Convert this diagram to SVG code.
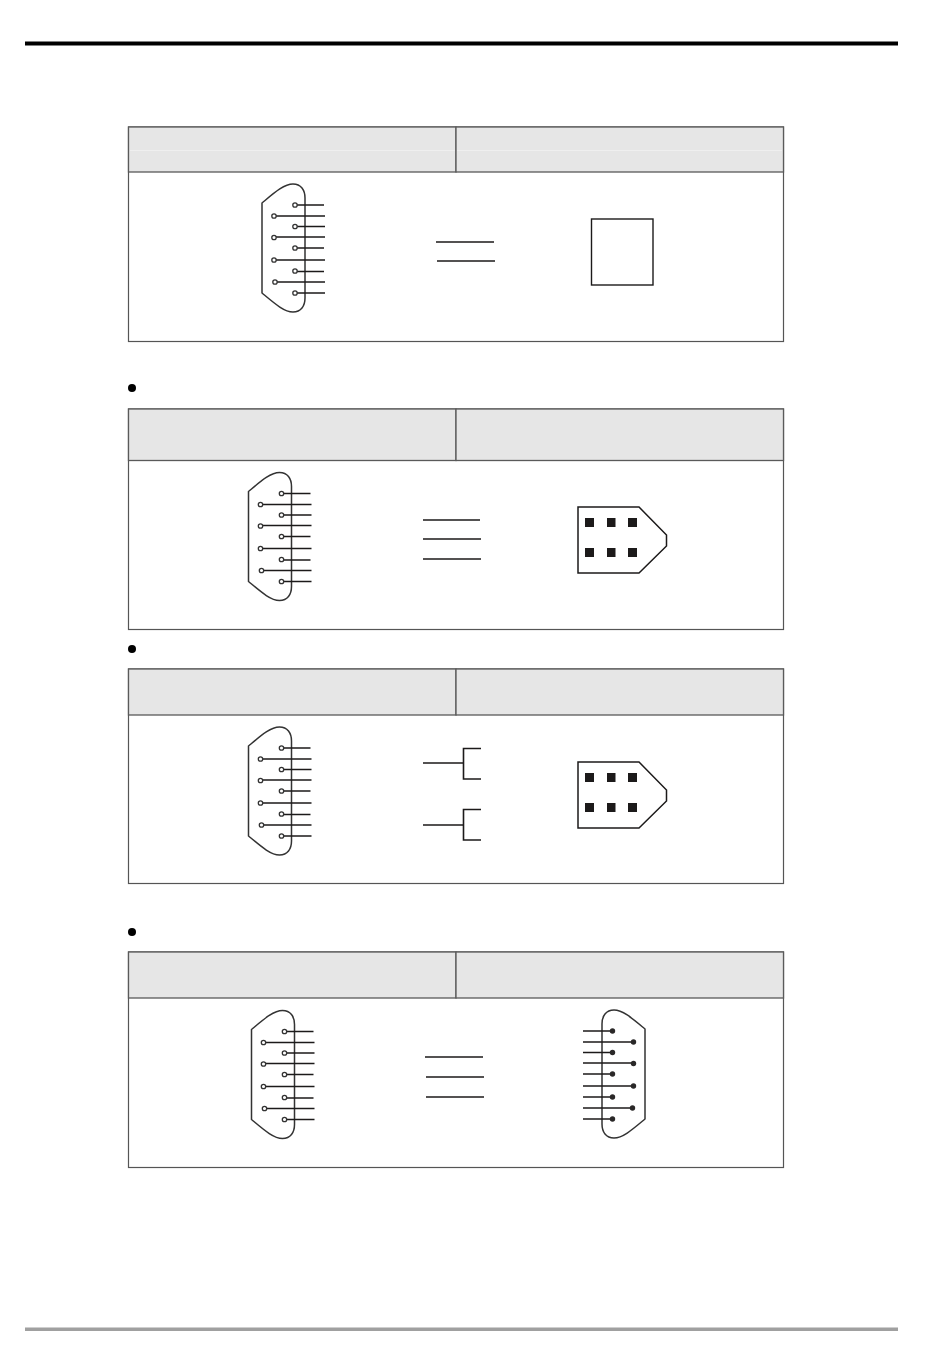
<svg xmlns="http://www.w3.org/2000/svg" xmlns:xlink="http://www.w3.org/1999/xlink" width="950" height="1360" viewBox="0 0 950 1360">
<style>
.tbl{fill:#fff;stroke:#555;stroke-width:1.2}
.hd{fill:#e6e6e6;stroke:#5a5a5a;stroke-width:1.3}
.ln{fill:none;stroke:#1c1a1a;stroke-width:1.6}
.sh{fill:none;stroke:#333;stroke-width:1.5}
.o{fill:#fff;stroke:#333;stroke-width:1.3}
.f{fill:#2a2828;stroke:none}
.sq{fill:#1c1a1a}
</style>
<defs>
<g id="dsub">
<path class="sh" d="M262 203C274 193 284 184 293 184C301 184 305 190 305 198V298C305 306 301 312 293 312C284 312 274 303 262 293Z"/>
<path class="ln" d="M295 205H324M274 216H325M295 226.500H325M274 237H325M295 248H324M274 260H325M295 271.500H324M275 282H325M295 293H325"/>
<circle class="o" cx="295" cy="205" r="2.200"/><circle class="o" cx="274" cy="216" r="2.200"/><circle class="o" cx="295" cy="226.500" r="2.200"/><circle class="o" cx="274" cy="237.500" r="2.200"/><circle class="o" cx="295" cy="248" r="2.200"/><circle class="o" cx="274" cy="260" r="2.200"/><circle class="o" cx="295" cy="271" r="2.200"/><circle class="o" cx="275" cy="282" r="2.200"/><circle class="o" cx="295" cy="293" r="2.200"/>
</g>
<g id="six">
<path class="sh" style="stroke:#1c1a1a" d="M578 507H639L666.500 535V546L639 573H578Z"/>
<rect class="sq" x="585" y="518" width="9" height="9"/><rect class="sq" x="607" y="518" width="8.500" height="9"/><rect class="sq" x="628" y="518" width="9" height="9"/>
<rect class="sq" x="585" y="548" width="9" height="9"/><rect class="sq" x="607" y="548" width="8.500" height="9"/><rect class="sq" x="628" y="548" width="9" height="9"/>
</g>
</defs>
<g id="page-rules">
<rect x="25" y="41.500" width="873" height="4" fill="#000"/>
<rect x="25" y="1327.500" width="873" height="3.500" fill="#a0a0a0"/>
</g>
<g id="bullets">
<circle cx="132" cy="388" r="4" fill="#000"/><circle cx="132" cy="649" r="4" fill="#000"/><circle cx="132" cy="932" r="4" fill="#000"/>
</g>
<g id="table1">
<rect class="tbl" x="128.500" y="127" width="655" height="214.500"/>
<rect class="hd" x="128.500" y="127" width="327.500" height="45"/><rect class="hd" x="456" y="127" width="327.500" height="45"/>
<path d="M130 150.500H455M457 150.500H782" stroke="#efefef" stroke-width="1"/>
</g>
<g id="table2">
<rect class="tbl" x="128.500" y="409" width="655" height="220.500"/>
<rect class="hd" x="128.500" y="409" width="327.500" height="51.500"/><rect class="hd" x="456" y="409" width="327.500" height="51.500"/>
</g>
<g id="table3">
<rect class="tbl" x="128.500" y="669" width="655" height="214.500"/>
<rect class="hd" x="128.500" y="669" width="327.500" height="46"/><rect class="hd" x="456" y="669" width="327.500" height="46"/>
</g>
<g id="table4">
<rect class="tbl" x="128.500" y="952" width="655" height="215.500"/>
<rect class="hd" x="128.500" y="952" width="327.500" height="46"/><rect class="hd" x="456" y="952" width="327.500" height="46"/>
</g>
<g id="connector-1-left"><use href="#dsub"/></g>
<g id="box-1-right"><rect x="591.500" y="219" width="61.500" height="66" fill="#fff" stroke="#1c1a1a" stroke-width="1.4"/></g>
<g id="connector-2-left"><use href="#dsub" transform="translate(-13.500 288.500)"/></g>
<g id="connector-2-right"><use href="#six"/></g>
<g id="connector-3-left"><use href="#dsub" transform="translate(-13.500 543)"/></g>
<g id="connector-3-right"><use href="#six" transform="translate(0 255)"/></g>
<g id="connector-4-left"><use href="#dsub" transform="translate(-10.500 826.500)"/></g>
<g id="connector-4-right">
<path class="sh" d="M645 1029C633 1019 623 1010 614 1010C606 1010 602 1016 602 1024V1124C602 1132 606 1138 614 1138C623 1138 633 1129 645 1119Z"/>
<path class="ln" d="M612.500 1031H583M633.500 1042H583M612.500 1052.500H583M633.500 1063H583M612.500 1074H583M633.500 1086H583M612.500 1097H583M632.500 1108H583M612.500 1119H583"/>
<circle class="f" cx="612.500" cy="1031" r="2.700"/><circle class="f" cx="633.500" cy="1042" r="2.700"/><circle class="f" cx="612.500" cy="1052.500" r="2.700"/><circle class="f" cx="633.500" cy="1063.500" r="2.700"/><circle class="f" cx="612.500" cy="1074" r="2.700"/><circle class="f" cx="633.500" cy="1086" r="2.700"/><circle class="f" cx="612.500" cy="1097" r="2.700"/><circle class="f" cx="632.500" cy="1108" r="2.700"/><circle class="f" cx="612.500" cy="1119" r="2.700"/>
</g>
<g id="connectors">
<path class="ln" d="M436 242H494M437 261H495"/>
<path class="ln" d="M423 520H480M423 539H481M423 559H481"/>
<path class="ln" d="M423 763H463M481 748.500H463.500V779H481M423 825H463M481 809.500H463.500V840H481"/>
<path class="ln" d="M425 1057H483M426 1077H484M426 1097H484"/>
</g>
</svg>
